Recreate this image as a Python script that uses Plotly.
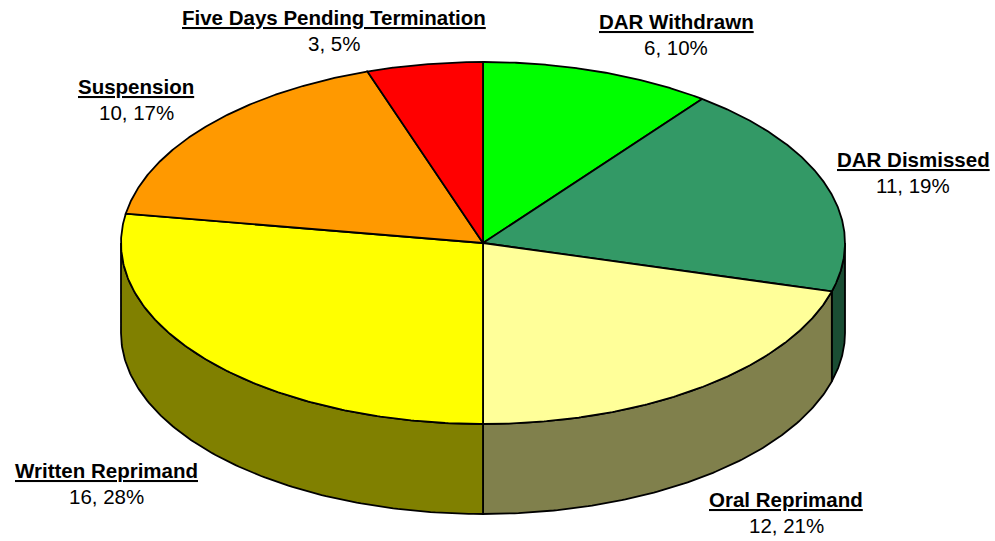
import numpy as np
import plotly.graph_objects as go

# Disciplinary outcomes (count per category), clockwise from 12 o'clock
categories = ["DAR Withdrawn", "DAR Dismissed", "Oral Reprimand",
              "Written Reprimand", "Suspension", "Five Days Pending Termination"]
counts = [6, 11, 12, 16, 10, 3]
top_colors = ["#00FF00", "#339966", "#FFFF99", "#FFFF00", "#FF9900", "#FF0000"]
side_colors = ["#008000", "#1A4D33", "#80804C", "#808000", "#804C00", "#800000"]

# label placement (centre x, y of the name line) in page pixels
label_pos = [(676, 21), (913, 159), (786, 499), (106, 470), (136, 86), (334, 17)]

W, H = 995, 541
cx, cy = 483, 243          # centre of the top face
rx, ry = 362, 181          # ellipse radii of the tilted disc
depth = 90                 # thickness of the disc

total = sum(counts)
bounds = np.concatenate([[0], np.cumsum(counts)]) / total * 360.0


def ell(theta_deg, dy=0.0):
    t = np.radians(theta_deg)
    return cx + rx * np.sin(t), cy - ry * np.cos(t) + dy


fig = go.Figure()
edge = dict(color="black", width=1.8)

# side walls: only the front half (90..270 degrees) is visible
for i in range(len(counts)):
    a1, a2 = max(bounds[i], 90.0), min(bounds[i + 1], 270.0)
    if a2 <= a1:
        continue
    th = np.linspace(a1, a2, 120)
    xt, yt = ell(th)
    xb, yb = ell(th[::-1], depth)
    xs = np.concatenate([xt, xb, xt[:1]])
    ys = np.concatenate([yt, yb, yt[:1]])
    fig.add_trace(go.Scatter(x=xs, y=ys, mode="lines", fill="toself",
                             fillcolor=side_colors[i], line=edge,
                             hoverinfo="skip", showlegend=False))

# top face wedges
for i in range(len(counts)):
    th = np.linspace(bounds[i], bounds[i + 1], 200)
    xa, ya = ell(th)
    xs = np.concatenate([[cx], xa, [cx]])
    ys = np.concatenate([[cy], ya, [cy]])
    fig.add_trace(go.Scatter(x=xs, y=ys, mode="lines", fill="toself",
                             fillcolor=top_colors[i], line=edge,
                             hoverinfo="skip", showlegend=False,
                             name=categories[i]))

# category labels: bold underlined name, then "count, percent"
font = dict(family="Arial, Liberation Sans", size=20.5, color="black")
for name, n, (lx, ly) in zip(categories, counts, label_pos):
    pct = round(100 * n / total)
    fig.add_annotation(x=lx, y=ly, xref="x", yref="y", showarrow=False,
                       text=f"<b><u>{name}</u></b>", yanchor="middle", font=font)
    fig.add_annotation(x=lx, y=ly + 26, xref="x", yref="y", showarrow=False,
                       text=f"{n}, {pct}%", yanchor="middle", font=font)

fig.update_layout(
    width=W, height=H,
    margin=dict(l=0, r=0, t=0, b=0),
    paper_bgcolor="white", plot_bgcolor="white",
    xaxis=dict(range=[0, W], visible=False, fixedrange=True),
    yaxis=dict(range=[H, 0], visible=False, fixedrange=True),
)

fig.write_html("out.html")
